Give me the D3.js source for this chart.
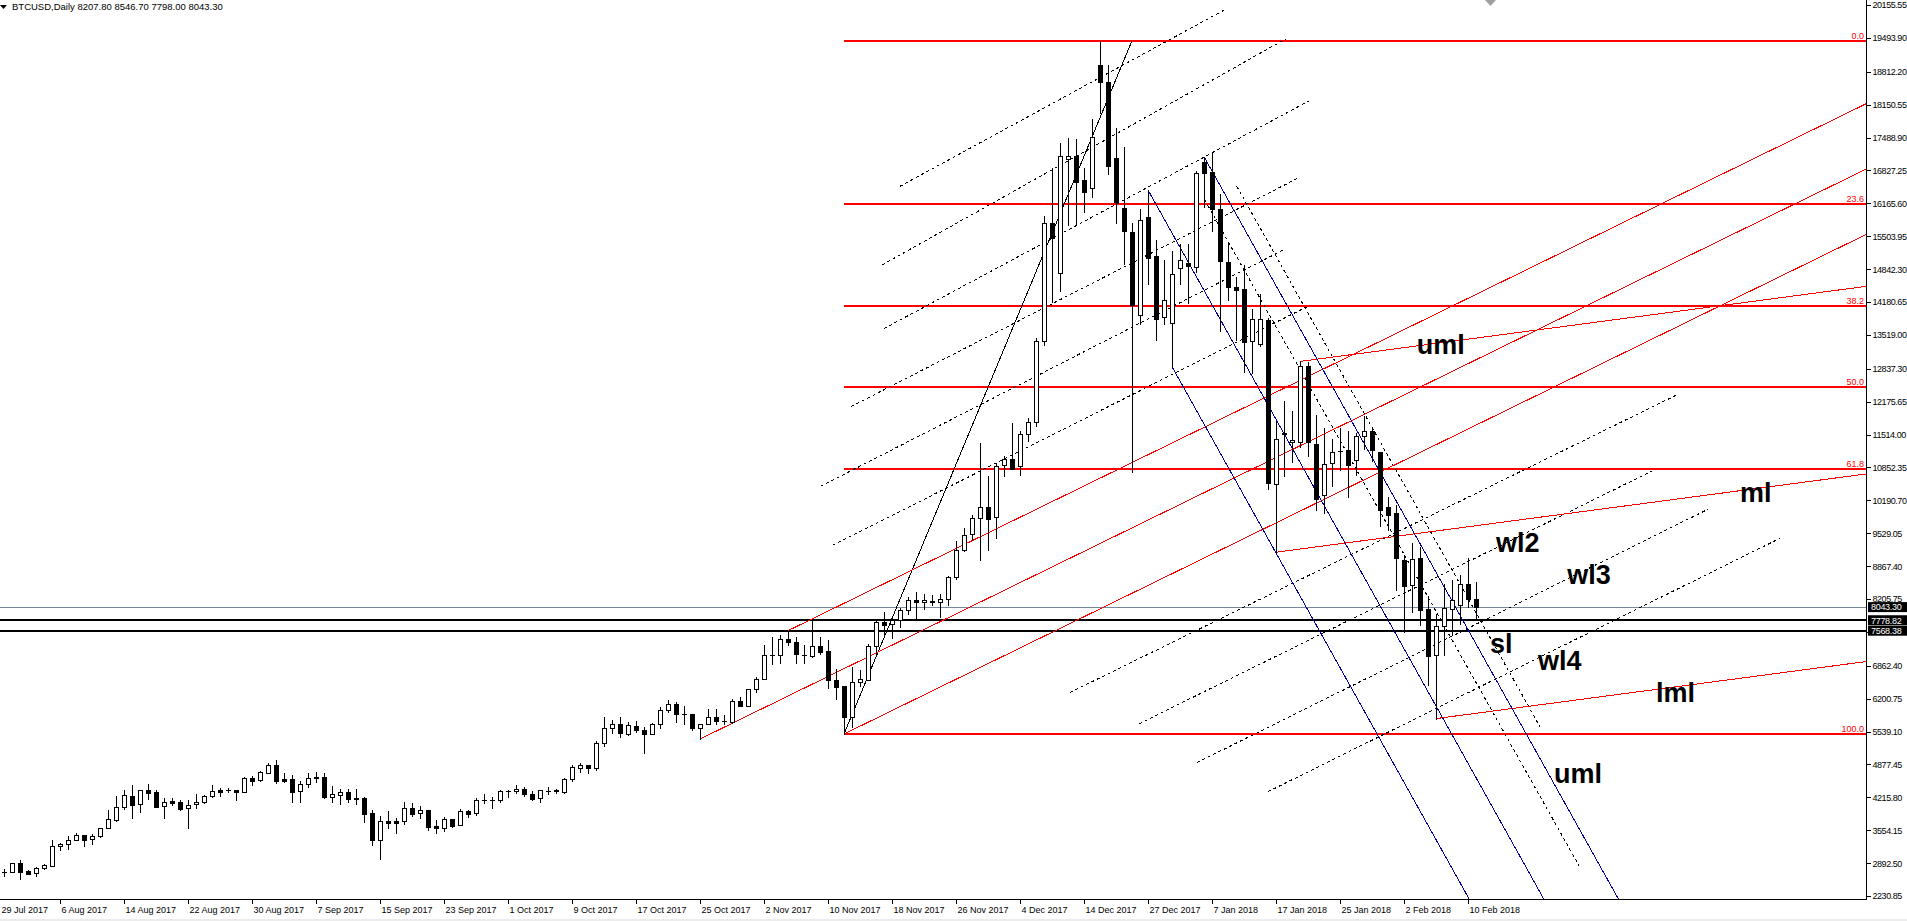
<!DOCTYPE html>
<html><head><meta charset="utf-8">
<script src="https://cdn.jsdelivr.net/npm/d3@7/dist/d3.min.js"></script>
<style>
html,body{margin:0;padding:0;background:#fff;overflow:hidden;}
svg{display:block;}
text{font-family:"Liberation Sans",Arial,sans-serif;}
</style></head><body>
<svg id="c" width="1907" height="921"></svg>
<script>
// ---------- DATA ----------
const symbolTitle = "BTCUSD,Daily";
const lastOHLC = [8207.80, 8546.70, 7798.00, 8043.30];

const open = [2716,2721,2888,2734,2687,2788,2841,3230,3270,3351,3452,3371,3431,3592,3767,4015,4236,4075,4364,4323,
4035,4136,4116,3995,4075,4116,4236,4364,4360,4357,4330,4598,4558,4712,4860,4585,4578,4350,4478,4618,
4618,4230,4270,4317,4190,4203,3894,3364,3740,3740,3733,3995,3908,3955,3639,3592,3780,3653,3941,3894,
4160,4162,4156,4340,4337,4377,4276,4196,4348,4350,4330,4578,4813,4860,4813,5303,5604,5685,5497,5658,
5571,5483,5691,5966,6087,5886,5892,5604,5685,5825,5757,5725,6147,6060,6389,6597,7073,7073,7395,7334,
7086,7066,7254,7153,6576,6456,5825,6529,6576,7254,7743,7696,7784,7978,8193,8139,8159,8139,8199,8645,
9199,9508,9831,10054,9853,10909,11017,10887,11520,11757,13388,15780,14760,17066,17124,16628,16470,18948,18597,17073,
16068,15579,13912,15890,15115,13886,13767,14855,14974,14884,17000,16806,16061,14981,14489,14437,13401,13342,13811,10511,
11554,11368,11368,12895,11330,10302,10943,11180,11196,11009,11479,11591,11166,10049,9930,8990,8480,9022,7995,7075,
7660,8005,8094,8504,8207.80];
const high = [2774,2902,2955,2754,2815,2875,3358,3297,3438,3492,3452,3478,3606,3961,4243,4364,4464,4357,4484,4364,
4203,4203,4156,4162,4283,4256,4464,4404,4404,4357,4618,4638,4746,4907,4967,4706,4659,4545,4706,4726,
4706,4437,4384,4384,4384,4223,3955,3841,3941,3800,4122,4102,4042,3955,3760,3820,3780,3981,3968,4203,
4283,4230,4364,4370,4458,4417,4337,4357,4424,4390,4598,4867,4900,4860,5356,5826,5772,5826,5725,5752,
5638,5705,6040,6167,6127,6060,5892,5685,5993,5993,5872,6188,6241,6395,6644,7274,7442,7475,7569,7442,
7274,7784,7448,7381,6791,6456,6831,6778,7294,7777,7944,7837,8032,8240,8347,8300,8286,8300,8675,9364,
9630,9888,11340,10679,10945,11089,11750,11591,11857,13459,15917,16886,17375,17483,17454,16872,17864,19437,18941,17677,
17289,15780,16046,16434,15428,15033,15205,15354,15354,16807,17105,17179,16345,15369,14683,14922,14050,14348,13863,11777,
12187,11978,12985,12970,11911,11643,11420,11643,11576,11554,11889,11665,11166,10250,10101,9100,9340,9254,8270,7910,
8500,8580,8697,9040,8546.70];
const low = [2640,2714,2580,2667,2640,2768,2841,3163,3183,3351,3244,3284,3411,3592,3747,3975,3807,3928,4189,4028,
3807,4062,3968,3606,4008,4095,4216,4250,4317,4169,4330,4464,4538,4699,4511,4518,4129,4129,4431,4525,
4209,4129,4089,4129,4089,3727,3264,2982,3592,3505,3686,3841,3807,3566,3505,3546,3619,3653,3820,3854,
4109,4008,4129,4230,4310,4236,4169,4129,4283,4310,4310,4551,4732,4699,4766,5249,5517,5437,5477,5524,
5115,5483,5604,5939,5738,5685,5564,5389,5685,5685,5685,5705,6060,6060,6342,6597,6905,6925,7280,6925,
6911,7033,7093,6409,6188,5490,5638,6456,6576,7099,7502,7415,7649,7898,7797,7998,8079,7837,8079,8610,
9170,9400,8983,9199,9436,10672,10830,10693,11390,11678,13316,14185,14408,15723,15723,15996,16297,17986,16765,15780,
14947,10751,13740,14550,13416,13737,12880,14549,14162,14780,16099,15614,13603,14221,13416,12768,12761,13305,10421,9147,
10675,10958,11255,11084,10004,9945,10474,10809,10250,10697,11219,10973,9669,9600,8380,7548,7945,7690,6485,5800,
7082,7478,7710,8050,7798.00];
const close = [2721,2888,2721,2680,2788,2855,3237,3277,3351,3452,3364,3431,3592,3780,4015,4256,4069,4357,4310,4028,
4116,4102,3988,4055,4116,4236,4337,4330,4364,4330,4598,4551,4719,4860,4551,4551,4330,4478,4598,4598,
4230,4276,4317,4189,4196,3888,3364,3733,3706,3706,3995,3888,3955,3626,3606,3780,3646,3934,3888,4162,
4162,4165,4337,4344,4377,4276,4176,4364,4352,4354,4578,4820,4860,4813,5303,5604,5685,5504,5671,5564,
5484,5691,5966,6087,5886,5890,5604,5685,5825,5745,5758,6147,6060,6395,6597,7073,7075,7395,7334,7093,
7086,7254,7146,6576,6442,5825,6529,6597,7254,7743,7690,7784,7978,8193,8139,8179,8139,8199,8642,9199,
9486,9831,10054,9817,10887,11017,10830,11520,11757,13388,15780,15478,17109,17116,16585,16391,17497,18597,16908,16190,
15601,14128,15823,15070,13841,14221,14735,15018,14899,16769,16769,16061,14996,14489,14430,13379,13848,13848,10548,11420,
11517,11405,12895,11368,10213,10921,11166,11181,10898,11479,11591,11204,10004,9890,9040,8460,9008,7980,7068,7667,
8027,8187,8517,8210,8043.30];

// x-axis labels every 8 bars (bar index of each label)
const tickBars = [-1,7,15,23,31,39,47,55,63,71,79,87,95,103,111,119,127,135,143,151,159,167,175,183];
const tickLabels = ["29 Jul 2017","6 Aug 2017","14 Aug 2017","22 Aug 2017","30 Aug 2017","7 Sep 2017","15 Sep 2017",
"23 Sep 2017","1 Oct 2017","9 Oct 2017","17 Oct 2017","25 Oct 2017","2 Nov 2017","10 Nov 2017","18 Nov 2017",
"26 Nov 2017","4 Dec 2017","14 Dec 2017","27 Dec 2017","7 Jan 2018","17 Jan 2018","25 Jan 2018","2 Feb 2018","10 Feb 2018"];
const yTickValues = [20155.55,19493.90,18812.20,18150.55,17488.90,16827.25,16165.60,15503.95,14842.30,14180.65,
13519.00,12837.30,12175.65,11514.00,10852.35,10190.70,9529.05,8867.40,8205.75,7544.10,6862.40,6200.75,5539.10,
4877.45,4215.80,3554.15,2892.50,2230.85];
const priceRange = [2171.0, 20256.1];

// Fibonacci retracement (anchor bars)
const fibAnchorLowBar = 105, fibAnchorHighBar = 141, fibHighBar = 137;
const fibRatios = [0, 0.236, 0.382, 0.5, 0.618, 1];
const fibNames = ["0.0","23.6","38.2","50.0","61.8","100.0"];

// horizontal levels
const hLevels = [7778.82, 7568.38];
const bidPrice = 8043.30;

// pitchfork pivot bars: [p1, p2, p3] and which price (h/l)
const forkRed1 = [[87,"l"],[98,"h"],[105,"l"]];
const forkRed2 = [[159,"l"],[162,"h"],[179,"l"]];
const forkBlue = [[143,"h"],[150,"h"],[146,"l"]];

// dotted parallel segments [bar1, price1, bar2, price2]
const dotSegs = [
 [112,16508,152.6,20061],[109.75,14925,160.2,19471],[110,13646,163.1,18224],
 [105.9,12079,161.6,16661],[102.1,10475,159.9,15227],[103.6,9288,162.8,14080],
 [133.25,6325,209,12304],[141.9,5697,206,10781],[149.1,4913,213,10011],[158,4330,222,9427],
 [154.1,16508,192,5637],[150.1,16233,196.9,2835]
];

// text annotations
const annoText = ["uml","ml","wl2","wl3","sl","wl4","lml","uml"];
const annoBar = [176.6,217,186.5,195.4,185.75,191.75,206.5,193.75];
const annoPrice = [13135,10164,9142,8508,7120,6768,6144,4499];

// ---------- DRAW ----------
const W = 1907, H = 921, PR = 1866, PB = 899;
const N = open.length;
const svg = d3.select("#c");
const x = d3.scaleLinear().domain([0, N - 1]).range([4, 4 + 8 * (N - 1)]);
const y = d3.scaleLinear().domain(priceRange).range([PB, 0]);

svg.append("defs").append("clipPath").attr("id","plot")
  .append("rect").attr("x",0).attr("y",0).attr("width",PR).attr("height",PB);

const plot = svg.append("g").attr("clip-path","url(#plot)").attr("shape-rendering","crispEdges");

// horizontal bid line & levels
plot.append("line").attr("x1",0).attr("x2",PR).attr("y1",Math.round(y(bidPrice))+0.5).attr("y2",Math.round(y(bidPrice))+0.5)
  .attr("stroke","#778899").attr("stroke-width",1);
hLevels.forEach(v=>{
  const yy = Math.round(y(v));
  plot.append("rect").attr("x",0).attr("width",PR).attr("y",yy-1).attr("height",2.2).attr("fill","#000");
});

// Fibonacci
const fibHigh = high[fibHighBar], fibLow = low[fibAnchorLowBar];
const fx0 = x(fibAnchorLowBar);
fibRatios.forEach((r,i)=>{
  const p = fibHigh - r*(fibHigh - fibLow);
  const yy = Math.round(y(p));
  plot.append("rect").attr("x",fx0).attr("width",PR-fx0).attr("y",yy-1).attr("height",2.2).attr("fill","#ff0000");
  svg.append("text").attr("x",PR-2).attr("y",yy-2.5).attr("text-anchor","end")
    .attr("font-size",9).attr("fill","#ff0000").text(fibNames[i]);
});
plot.append("line").attr("x1",x(fibAnchorLowBar)).attr("y1",y(fibLow))
  .attr("x2",x(fibAnchorHighBar)).attr("y2",y(fibHigh)).attr("stroke","#000").attr("stroke-width",1);

// dotted lines
dotSegs.forEach(s=>{
  plot.append("line").attr("x1",x(s[0])).attr("y1",y(s[1])).attr("x2",x(s[2])).attr("y2",y(s[3]))
    .attr("stroke","#000").attr("stroke-width",1).attr("stroke-dasharray","3,3");
});

// pitchforks
function pivot(pv){ const b = pv[0]; return [x(b), y(pv[1]==="h" ? high[b] : low[b])]; }
function drawFork(f, color, far){
  const p1 = pivot(f[0]), p2 = pivot(f[1]), p3 = pivot(f[2]);
  const m = [(p2[0]+p3[0])/2, (p2[1]+p3[1])/2];
  const dx = m[0]-p1[0], dy = m[1]-p1[1];
  const len = Math.hypot(dx,dy), ux = dx/len, uy = dy/len;
  [p1,p2,p3].forEach(p=>{
    plot.append("line").attr("x1",p[0]).attr("y1",p[1])
      .attr("x2",p[0]+ux*far).attr("y2",p[1]+uy*far)
      .attr("stroke",color).attr("stroke-width",1);
  });
}
drawFork(forkRed1, "#ff0000", 3000);
drawFork(forkRed2, "#ff0000", 3000);
drawFork(forkBlue, "#00009c", 3000);

// candles
const cg = plot.append("g");
for (let i=0;i<N;i++){
  const cx = Math.round(x(i));
  const yh = Math.round(y(high[i])), yl = Math.round(y(low[i]));
  const yt = Math.round(y(Math.max(open[i],close[i]))), yb = Math.round(y(Math.min(open[i],close[i])));
  cg.append("rect").attr("x",cx).attr("width",1).attr("y",yh).attr("height",Math.max(1,yl-yh+1)).attr("fill","#000");
  cg.append("rect").attr("x",cx-2).attr("width",5).attr("y",yt).attr("height",Math.max(1,yb-yt+1)).attr("fill","#000");
  if (close[i] > open[i] && yb-yt >= 2){
    cg.append("rect").attr("x",cx-1).attr("width",3).attr("y",yt+1).attr("height",yb-yt-1).attr("fill","#fff");
  }
}

// annotation text
annoText.forEach((t,i)=>{
  svg.append("text").attr("x",x(annoBar[i])).attr("y",y(annoPrice[i]))
    .attr("font-size",27).attr("font-weight","bold").attr("fill","#000").text(t);
});

// axes frame
svg.append("rect").attr("x",PR).attr("y",0).attr("width",1).attr("height",PB+1).attr("fill","#000").attr("shape-rendering","crispEdges");
svg.append("rect").attr("x",0).attr("y",PB).attr("width",PR+1).attr("height",1).attr("fill","#000").attr("shape-rendering","crispEdges");

// y axis
const yAxis = d3.axisRight(y).tickValues(yTickValues).tickSize(4).tickPadding(2).tickFormat(d3.format(".2f"));
const yg = svg.append("g").attr("transform",`translate(${PR+0.5},0)`).call(yAxis);
yg.select(".domain").remove();
yg.selectAll("text").attr("font-size",9).attr("letter-spacing","-0.45px")
  .attr("font-family","Liberation Sans, Arial, sans-serif").attr("fill","#000");
yg.selectAll("line").attr("stroke","#000").attr("shape-rendering","crispEdges");

// x axis
const xAxis = d3.axisBottom(x).tickValues(tickBars).tickSize(4).tickPadding(3).tickFormat((d,i)=>tickLabels[i]);
const xg = svg.append("g").attr("transform",`translate(0,${PB+0.5})`).call(xAxis);
xg.select(".domain").remove();
xg.selectAll("text").attr("font-size",9).attr("text-anchor","start")
  .attr("dx",d=>Math.max(1, 1 - x(d)))
  .attr("font-family","Liberation Sans, Arial, sans-serif").attr("fill","#000");
xg.selectAll("line").attr("stroke","#000").attr("shape-rendering","crispEdges");

// price boxes on axis
function priceBox(v){
  const yy = y(v);
  svg.append("rect").attr("x",PR+2).attr("y",yy-5).attr("width",W-PR).attr("height",10).attr("fill","#000");
  svg.append("text").attr("x",PR+5).attr("y",yy+3.3).attr("font-size",9).attr("letter-spacing","-0.3px")
    .attr("fill","#fff").text(v.toFixed(2));
}
priceBox(bidPrice);
hLevels.forEach(priceBox);

// header
svg.append("path").attr("d","M0,5 L7,5 L3.5,9 Z").attr("fill","#000");
svg.append("text").attr("x",12).attr("y",10).attr("font-size",9.5).attr("fill","#000")
  .text(symbolTitle + "  " + lastOHLC.map(v=>v.toFixed(2)).join(" "));
// chart shift marker
svg.append("path").attr("d","M1485,0 L1496,0 L1490.5,6 Z").attr("fill","#a0a0a0");
// bottom strip
svg.append("rect").attr("x",0).attr("y",H-2).attr("width",W).attr("height",2).attr("fill","#ececec");
</script>
</body></html>
